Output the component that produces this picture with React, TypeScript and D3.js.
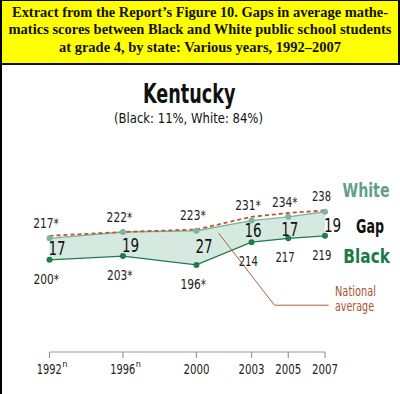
import React from "react";
import * as d3 from "d3";

const years = [1992, 1996, 2000, 2003, 2005, 2007];
const yearLabels = ["1992", "1996", "2000", "2003", "2005", "2007"];
const yearSup = ["n", "n", "", "", "", ""];
const white = [217, 222, 223, 231, 234, 238];
const whiteSig = ["*", "*", "*", "*", "*", ""];
const black = [200, 203, 196, 214, 217, 219];
const blackSig = ["*", "*", "*", "", "", ""];
const national = [219, 222, 224, 234, 237, 239];
const gaps = [17, 19, 27, 16, 17, 19];
const titleLines = [
  "Extract from the Report’s Figure 10. Gaps in average mathe-",
  "matics scores between Black and White public school students",
  "at grade 4, by state: Various years, 1992–2007",
];
const titleWidths = [376, 383, 282];

const W = 400;
const H = 394;
const NARROW = "'Liberation Sans Narrow', 'DejaVu Sans Condensed', 'Liberation Sans', sans-serif";
const SERIF = "'Liberation Serif', 'Times New Roman', serif";

function T(props: any) {
  const { w, children, ...rest } = props;
  return (
    <text textLength={w} lengthAdjust="spacingAndGlyphs" {...rest}>
      {children}
    </text>
  );
}

function numWidth(s: string, digit: number, star: number) {
  let w = 0;
  for (const c of s) w += c === "*" ? star : digit;
  return w;
}

export default function App() {
  const x = d3.scaleLinear().domain([1992, 2007]).range([49.5, 325]);
  const y = d3.scaleLinear().domain([180, 240]).range([285.2, 209.2]);

  const area = d3
    .area<number>()
    .x((_, i) => x(years[i]))
    .y0((_, i) => y(black[i]))
    .y1((_, i) => y(white[i]));
  const line = d3
    .line<number>()
    .x((_, i) => x(years[i]))
    .y((d) => y(d));

  const gapAnchor = ["start", "start", "start", "middle", "middle", "start"];
  const gapDy = [6, 8, 5, 5.5, 8.5, 8];

  return (
    <div style={{ position: "fixed", left: 0, top: 0 }}>
      <svg width={W} height={H} style={{ display: "block", background: "#fff" }}>
        {/* yellow title box */}
        <rect x={1} y={0.5} width={398} height={63.5} fill="#ffff00" stroke="#000" strokeWidth={1} />
        <rect x={0} y={63} width={W} height={2} fill="#111" />
        <rect x={398} y={0} width={2} height={64} fill="#000" />
        {/* outer left border */}
        <rect x={0} y={0} width={2} height={H} fill="#000" />
        {titleLines.map((t, i) => (
          <T
            key={i}
            w={titleWidths[i]}
            x={200 - titleWidths[i] / 2}
            y={17 + i * 17.3}
            fontFamily={SERIF}
            fontWeight="bold"
            fontSize={14.5}
            fill="#111"
          >
            {t}
          </T>
        ))}

        <T w={92.5} x={143} y={103} fontFamily={NARROW} fontWeight="bold" fontSize={27} fill="#111">
          Kentucky
        </T>
        <T w={149} x={114} y={123} fontFamily={NARROW} fontSize={13.5} fill="#111">
          (Black: 11%, White: 84%)
        </T>

        {/* gap area */}
        <path d={area(white) || ""} fill="#d5e9e0" />
        <path d={line(white) || ""} fill="none" stroke="#7db3a3" strokeWidth={1.3} />
        <path d={line(national) || ""} fill="none" stroke="#c0562a" strokeWidth={1.8} strokeDasharray="4,3" />
        <path d={line(black) || ""} fill="none" stroke="#1e7b4c" strokeWidth={1.3} />

        {/* national average leader */}
        <polyline
          points={`${x(2001.2)},${y(221.2)} ${x(2004.25)},${y(164.2)} ${x(2007.2)},${y(164.2)}`}
          fill="none"
          stroke="#b0603c"
          strokeWidth={1}
        />
        <T w={41} x={335} y={296} fontFamily={NARROW} fontSize={14} fill="#a9532e">
          National
        </T>
        <T w={39} x={335} y={310.5} fontFamily={NARROW} fontSize={14} fill="#a9532e">
          average
        </T>

        {years.map((yr, i) => {
          const wl = `${white[i]}${whiteSig[i]}`;
          const bl = `${black[i]}${blackSig[i]}`;
          const wW = numWidth(wl, 6.4, 6.5);
          const bW = numWidth(bl, 6.4, 6.5);
          const gl = `${gaps[i]}`;
          const gW = numWidth(gl, 8.6, 0);
          const gx = gapAnchor[i] === "middle" ? x(yr) + 1.5 - gW / 2 : x(yr) - 1;
          return (
            <g key={yr}>
              <circle cx={x(yr)} cy={y(white[i])} r={3} fill="#7db3a3" />
              <circle cx={x(yr)} cy={y(black[i])} r={3} fill="#1e7b4c" />
              <T w={wW} x={x(yr) - 3.5 - wW / 2} y={y(white[i]) - 10.3} fontFamily={NARROW} fontSize={14} fill="#222">
                {wl}
              </T>
              <T w={bW} x={x(yr) - 3.2 - bW / 2} y={y(black[i]) + 24} fontFamily={NARROW} fontSize={14} fill="#222">
                {bl}
              </T>
              <T
                w={gW}
                x={gx}
                y={(y(white[i]) + y(black[i])) / 2 + gapDy[i]}
                fontFamily={NARROW}
                fontSize={19.5}
                fill="#111"
              >
                {gl}
              </T>
            </g>
          );
        })}

        {/* legend */}
        <T w={47} x={342.5} y={196.5} fontFamily={NARROW} fontWeight="bold" fontSize={20} fill="#5fa08c">
          White
        </T>
        <T w={28} x={356} y={233} fontFamily={NARROW} fontWeight="bold" fontSize={20} fill="#111">
          Gap
        </T>
        <T w={46.7} x={343.3} y={263.3} fontFamily={NARROW} fontWeight="bold" fontSize={20} fill="#1a7a4a">
          Black
        </T>

        {/* axis */}
        <line x1={x(1992)} x2={x(2007)} y1={352} y2={352} stroke="#9a9a9a" strokeWidth={1.2} />
        {years.map((yr, i) => {
          const sup = yearSup[i];
          const lx = sup ? x(yr) - 12.8 : x(yr) - 13;
          return (
            <g key={"t" + yr}>
              <line x1={x(yr)} x2={x(yr)} y1={352} y2={358} stroke="#9a9a9a" strokeWidth={1.2} />
              <text x={lx} y={373.5} fontFamily={NARROW} fontSize={14} fill="#222">
                <tspan textLength={sup ? 25 : 26} lengthAdjust="spacingAndGlyphs">
                  {yearLabels[i]}
                </tspan>
                {sup ? (
                  <tspan x={lx + 25.5} dy={-6.5} fontSize={9}>
                    {sup}
                  </tspan>
                ) : null}
              </text>
            </g>
          );
        })}
      </svg>
    </div>
  );
}
